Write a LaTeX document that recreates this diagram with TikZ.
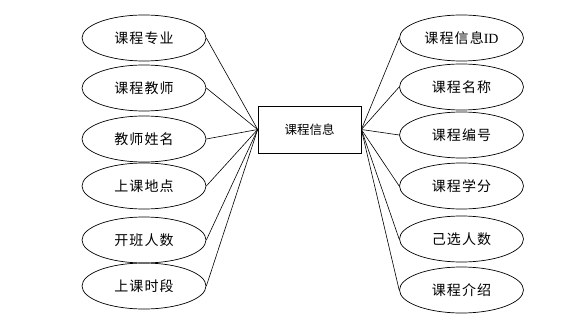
\documentclass[tikz,border=0pt]{standalone}
\usepackage{fontspec}
\setmainfont{Liberation Serif}
\newfontfamily\cjk[LetterSpace=8]{Noto Sans CJK SC}
\newfontfamily\cjkbox{Noto Sans CJK SC}
\usetikzlibrary{shapes.geometric}
\begin{document}
\begin{tikzpicture}[x=1pt,y=-1pt,
  attr/.style={draw, line width=0.7pt, ellipse, minimum width=124pt, minimum height=46pt, inner sep=0pt, font=\fontsize{14}{16}\selectfont\cjk},
  entity/.style={draw, line width=0.7pt, rectangle, minimum width=103pt, minimum height=47pt, inner sep=0pt, font=\fontsize{12.5}{15}\selectfont\cjkbox},
  link/.style={line width=0.6pt}]
\useasboundingbox (0,0) rectangle (586,326);
\node[entity] (e) at (309.5,129.5) {课程信息};
\node[attr] (l1) at (144,38) {课程专业};
\node[attr] (l2) at (144,88) {课程教师};
\node[attr] (l3) at (144,139) {教师姓名};
\node[attr] (l4) at (144,186) {上课地点};
\node[attr] (l5) at (144,240) {开班人数};
\node[attr] (l6) at (144,286) {上课时段};
\node[attr] (r1) at (461.5,38) {课程信息\normalfont ID};
\node[attr] (r2) at (461.5,87) {课程名称};
\node[attr] (r3) at (461.5,135) {课程编号};
\node[attr] (r4) at (461.5,186) {课程学分};
\node[attr] (r5) at (461.5,239) {己选人数};
\node[attr] (r6) at (461.5,290) {课程介绍};
\foreach \n in {l1,l2,l3,l4,l5,l6} \draw[link] (\n.east) -- (e.west);
\foreach \n in {r1,r2,r3,r4,r5,r6} \draw[link] (\n.west) -- (e.east);
\end{tikzpicture}
\end{document}
